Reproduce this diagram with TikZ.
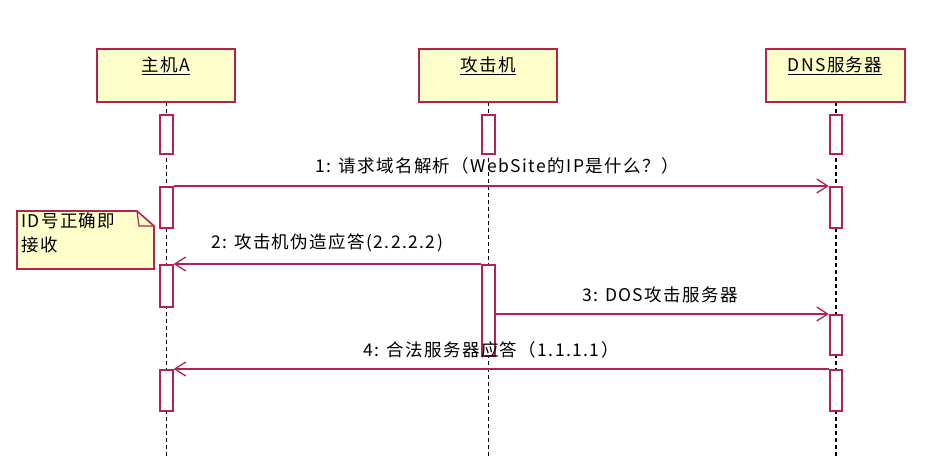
\documentclass[tikz,border=0pt]{standalone}
\usepackage{fontspec}
\usetikzlibrary{arrows.meta}
\newfontfamily\cjk[LetterSpace=8]{Noto Sans CJK SC}
\definecolor{umlred}{RGB}{176,36,78}
\definecolor{umlfill}{RGB}{255,255,204}
\tikzset{
  headbox/.style={draw=umlred, fill=umlfill, line width=1.8pt},
  actbox/.style={draw=umlred, fill=white, line width=1.7pt, minimum width=12.5pt, inner sep=0pt, anchor=north},
  lifeline/.style={draw=black, line width=1.6pt, dash pattern=on 4pt off 3pt},
  msg/.style={draw=umlred, line width=1.5pt, -{Straight Barb[length=11pt,width=14pt,line width=1.3pt]}},
  lbl/.style={font=\cjk\fontsize{17.5}{20}\selectfont, inner sep=0pt, text=black},
  headlbl/.style={font=\cjk\fontsize{17.5}{20}\selectfont, inner sep=0pt, text=black}
}
\begin{document}
\begin{tikzpicture}[x=1pt,y=-1pt]
\useasboundingbox (0,0) rectangle (951,458);
% lifelines
\coordinate (la) at (166.5,102);
\coordinate (lb) at (488.5,102);
\coordinate (lc) at (836,102);
\coordinate (ea) at (166.5,458);
\coordinate (eb) at (488.5,458);
\coordinate (ec) at (836,458);
\draw[lifeline] (la) -- (ea);
\draw[lifeline] (lb) -- (eb);
\draw[lifeline] (lc) -- (ec);
% header boxes
\draw[headbox] (97,49) rectangle (235,102);
\draw[headbox] (419,49) rectangle (557,102);
\draw[headbox] (766,49) rectangle (905,102);
\node[headlbl] (ha) at (166,66) {\underline{主机A}};
\node[headlbl] (hb) at (488,66) {\underline{攻击机}};
\node[headlbl] (hc) at (835,66) {\underline{DNS服务器}};
% activation boxes
\node[actbox, minimum height=39pt] (a0) at (166.5,114) {};
\node[actbox, minimum height=39pt] (b0) at (488.5,114) {};
\node[actbox, minimum height=39pt] (c0) at (836,114) {};
\node[actbox, minimum height=41pt] (a1) at (166.5,186) {};
\node[actbox, minimum height=41pt] (c1) at (836,186) {};
\node[actbox, minimum height=42pt] (a2) at (166.5,264) {};
\node[actbox, minimum height=91pt] (b2) at (488.5,264) {};
\node[actbox, minimum height=40pt] (c3) at (836,314) {};
\node[actbox, minimum height=41pt] (a4) at (166.5,369) {};
\node[actbox, minimum height=41pt] (c4) at (836,369) {};
% messages
\draw[msg] (a1.north east) -- (c1.north west);
\draw[msg] (b2.north west) -- (a2.north east);
\draw[msg] (b2.east |- c3.north) -- (c3.north west);
\draw[msg] (c4.north west) -- (a4.north east);
% labels
\node[lbl] (t1) at (497,166) {1: 请求域名解析（WebSite的IP是什么？）};
\node[lbl] (t2) at (327,243) {2: 攻击机伪造应答(2.2.2.2)};
\node[lbl] (t3) at (660,295) {3: DOS攻击服务器};
\node[lbl] (t4) at (491,350) {4: 合法服务器应答（1.1.1.1）};
% note
\draw[headbox, line width=1.6pt] (17,211) -- (137,211) -- (154,226) -- (154,269) -- (17,269) -- cycle;
\draw[draw=umlred, line width=1.2pt] (137,211) -- (139,226) -- (154,226);
\node[lbl, anchor=north west, align=left, font=\cjk\fontsize{17.5}{24}\selectfont] (note) at (21,213) {ID号正确即\\接收};
\end{tikzpicture}
\end{document}
